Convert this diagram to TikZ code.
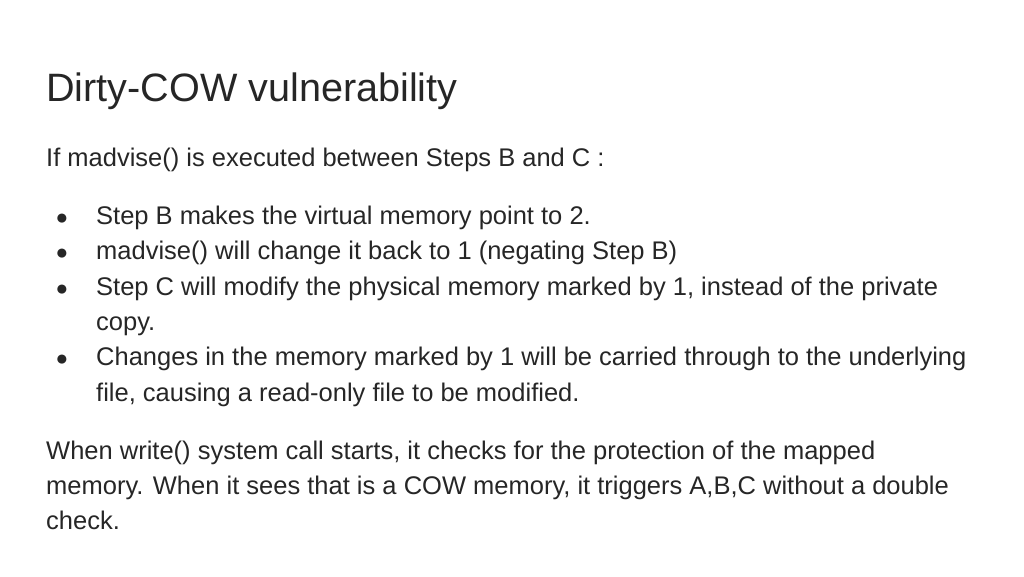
\documentclass[tikz,border=0pt]{standalone}
\usepackage{fontspec}
\setmainfont{Liberation Sans}
\usetikzlibrary{positioning}
\tikzset{
  title/.style={anchor=base west,inner sep=0pt,font=\fontsize{39.6}{44}\selectfont,text=black!85},
  body/.style={anchor=base west,inner sep=0pt,font=\fontsize{25.5}{32}\selectfont,text=black!85},
  bullet/.style={anchor=base,inner sep=0pt,font=\fontsize{21}{30}\selectfont,text=black!85}
}
\begin{document}
\begin{tikzpicture}[x=1pt,y=-1pt]
  \useasboundingbox (0,0) rectangle (1024,576);
  \node[title] (title) at (46,101) {Dirty-COW vulnerability};
  \node[body] (intro) at (46,166) {If madvise() is executed between Steps B and C :};
  % bullet list
  \foreach \y/\t [count=\i] in {224/{Step B makes the virtual memory point to 2.},
      259/{madvise() will change it back to 1 (negating Step B)},
      295/{Step C will modify the physical memory marked by 1, instead of the private},
      365/{Changes in the memory marked by 1 will be carried through to the underlying}}{
    \node[bullet] (dot\i) at (62,\y) {●};
    \node[body] (item\i) at (96,\y) {\t};
  }
  \node[body] (item3b) at (96,330) {copy.};
  \node[body] (item4b) at (96,401) {file, causing a read-only file to be modified.};
  % closing paragraph
  \node[body] (end1) at (46,459) {When write() system call starts, it checks for the protection of the mapped};
  \node[body] (end2) at (46,494) {memory. When it sees that is a COW memory, it triggers A,B,C without a double};
  \node[body] (end3) at (46,529) {check.};
\end{tikzpicture}
\end{document}
